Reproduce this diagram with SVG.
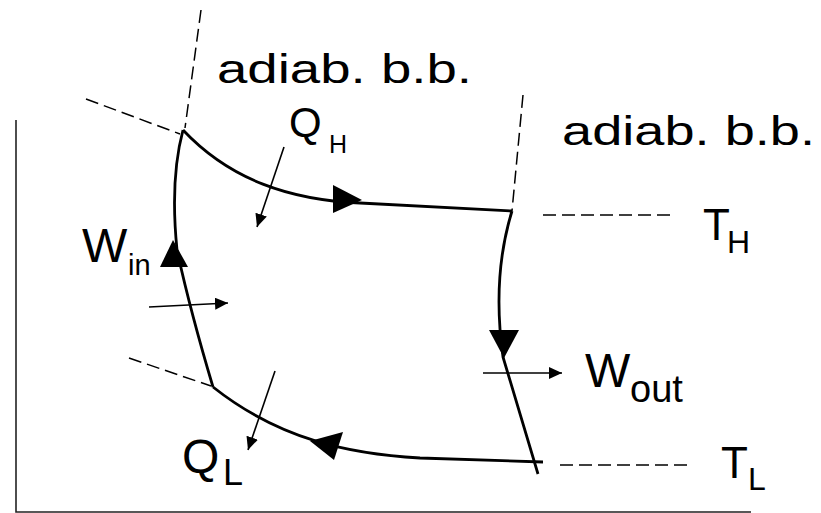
<svg xmlns="http://www.w3.org/2000/svg" width="821" height="513" viewBox="0 0 821 513">
<defs>
<marker id="ah" viewBox="0 0 13 12" refX="13" refY="6" markerWidth="13" markerHeight="12" markerUnits="userSpaceOnUse" orient="auto">
<path d="M0,0 L13,6 L0,12 Z" fill="#000"/>
</marker>
</defs>
<style>
.axis{stroke:#222;stroke-width:1.6;fill:none}
.proc{stroke:#000;stroke-width:2.8;fill:none;stroke-linejoin:round}
.dash{stroke:#000;stroke-width:1.5;fill:none;stroke-dasharray:13,6}
.flow{stroke:#000;stroke-width:1.6;fill:none;marker-end:url(#ah)}
.head{fill:#000}
text{font-family:"Liberation Sans",Arial,sans-serif;fill:#000}
.lbl{font-size:41px}
</style>
<rect width="821" height="513" fill="#fff"/>
<g id="axes">
<path class="axis" d="M16,120 L16,512 L751,512"/>
</g>
<g id="connectors">
<path class="proc" d="M183,130 C230,180 290,200 360,203 L512,211"/>
<path class="proc" d="M512,211 C500,250 495,300 503,357 L538,474"/>
<path class="proc" d="M543,462 L420,458 C350,454 280,440 213,387"/>
<path class="proc" d="M213,387 Q190,310 177,250 C172,200 175,160 183,130"/>
<polygon class="head" points="333,185 333,213 362,200"/>
<polygon class="head" points="489,330 519,330 504,358"/>
<polygon class="head" points="310,441 343,432 334,460"/>
<polygon class="head" points="160,267 188,267 173,240"/>
<path class="dash" d="M86,99 L180,134"/>
<path class="dash" d="M201,10 L185,128"/>
<path class="dash" d="M523,95 L512,211"/>
<path class="dash" d="M543,215 L675,215"/>
<path class="dash" d="M560,465 L693,465"/>
<path class="dash" d="M129,358 L211,386"/>
<path class="flow" d="M284,147 L257,227"/>
<path class="flow" d="M275,371 L248,450"/>
<path class="flow" d="M149,307 L228,303"/>
<path class="flow" d="M483,373 L562,373"/>
</g>
<g id="label-adiab1"><text class="lbl" x="217" y="83" textLength="255" lengthAdjust="spacingAndGlyphs">adiab. b.b.</text></g>
<g id="label-adiab2"><text class="lbl" x="562" y="145" textLength="253" lengthAdjust="spacingAndGlyphs">adiab. b.b.</text></g>
<g id="label-QH"><text x="289" y="137" font-size="42">Q<tspan x="329" y="153" font-size="25">H</tspan></text></g>
<g id="label-TH"><text x="703" y="240" font-size="44">T<tspan x="727" y="253" font-size="32">H</tspan></text></g>
<g id="label-TL"><text x="721" y="478" font-size="44">T<tspan x="748" y="490" font-size="32">L</tspan></text></g>
<g id="label-Wout"><text x="585" y="387" font-size="48">W<tspan x="630" y="402" font-size="38">out</tspan></text></g>
<g id="label-Win"><text x="82" y="262" font-size="48">W<tspan x="128" y="275" font-size="29">in</tspan></text></g>
<g id="label-QL"><text x="182" y="473" font-size="48">Q<tspan x="223" y="485" font-size="36">L</tspan></text></g>
</svg>
